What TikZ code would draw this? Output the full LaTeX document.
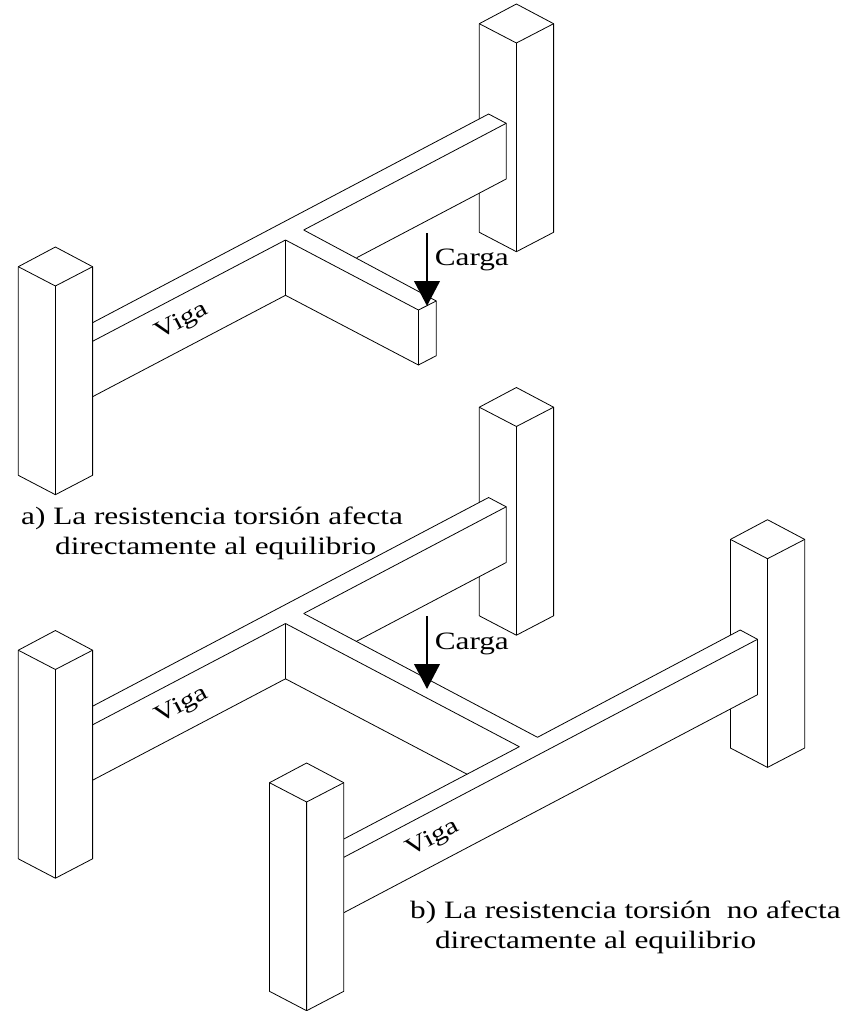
\documentclass[tikz,border=0pt]{standalone}
\usepackage{fontspec}
\setmainfont{Liberation Serif}[FakeStretch=1.25]
\usetikzlibrary{arrows.meta}

\tikzset{
  linea/.style = {line width=0.8pt, line join=round},
  texto/.style = {anchor=base west, inner sep=0pt, font=\fontsize{25}{28}\selectfont},
  rotulo/.style = {inner sep=0pt, rotate=27.8, font=\fontsize{24}{28}\selectfont},
  flecha/.style = {-{Triangle[length=25pt,width=25.5pt]}, line width=2.6pt},
  columna/.pic = {
    \filldraw[linea, fill=white] (0,19.7) -- (37.1,0) -- (74.3,19.7) -- (74.3,228.3)
        -- (37.1,247.7) -- (0,228.3) -- cycle;
    \draw[linea] (0,19.7) -- (37.1,39) -- (74.3,19.7) (37.1,39) -- (37.1,247.7);
  },
  vigafondo/.pic = {
    \fill[white] (92.6,322.7) -- (488.6,114) -- (506.2,123.3) -- (506.2,179)
        -- (285.5,295.3) -- (92.6,396.7) -- cycle;
    \draw[linea] (92.6,322.7) -- (488.6,114) -- (506.2,123.3) -- (506.2,179) -- (356.7,257.7);
    \draw[linea] (92.6,341.3) -- (285.5,240);
    \draw[linea] (303.7,230) -- (506.2,123.3);
    \draw[linea] (92.6,396.7) -- (285.5,295.3) -- (285.5,240);
  },
}

\begin{document}
\begin{tikzpicture}[x=1pt, y=-1pt]
\useasboundingbox (0,0) rectangle (852,1011);

% figura a
\pic at (479.3,4) {columna};
\pic at (0,0) {vigafondo};
\draw[linea] (303.7,230) -- (436.3,301) -- (436.3,355.7) -- (418.4,365) -- (418.4,310) -- (285.5,240);
\draw[linea] (436.3,301) -- (418.4,310);
\draw[linea] (285.5,295.3) -- (418.4,365);
\pic at (18.3,247) {columna};
\coordinate (cargaA1) at (427,233);
\coordinate (cargaA2) at (427,306);
\draw[flecha] (cargaA1) -- (cargaA2);
\node[texto] (cargaA) at (434.6,265.7) {Carga};
\node[rotulo] (vigaA) at (182,322) {Viga};
\node[texto] (tituloA1) at (21,524) {a) La resistencia torsión afecta};
\node[texto] (tituloA2) at (55,554) {directamente al equilibrio};

% figura b
\pic at (479.3,387.5) {columna};
\pic at (730.4,519.7) {columna};
\pic at (0,383.5) {vigafondo};
\fill[white] (343.8,839) -- (740.2,630) -- (757.5,639.3) -- (757.5,694.7) -- (343.8,912.7) -- cycle;
\draw[linea] (303.7,613.5) -- (537.5,737.3) -- (740.2,630) -- (757.5,639.3) -- (757.5,694.7) -- (343.8,912.7);
\draw[linea] (285.5,623.5) -- (519.3,746.7) -- (343.8,839);
\draw[linea] (285.5,678.8) -- (467.2,774.3);
\draw[linea] (343.8,857.3) -- (757.5,639.3);
\pic at (18.3,630.5) {columna};
\pic at (269.5,763) {columna};
\coordinate (cargaB1) at (427,616.3);
\coordinate (cargaB2) at (427,689);
\draw[flecha] (cargaB1) -- (cargaB2);
\node[texto] (cargaB) at (434.6,649.3) {Carga};
\node[rotulo] (vigaB) at (182,705.5) {Viga};
\node[rotulo] (vigaC) at (433,839) {Viga};
\node[texto] (tituloB1) at (410,918.3) {b) La resistencia torsión\ \ no afecta};
\node[texto] (tituloB2) at (434.8,948.7) {directamente al equilibrio};
\end{tikzpicture}
\end{document}
